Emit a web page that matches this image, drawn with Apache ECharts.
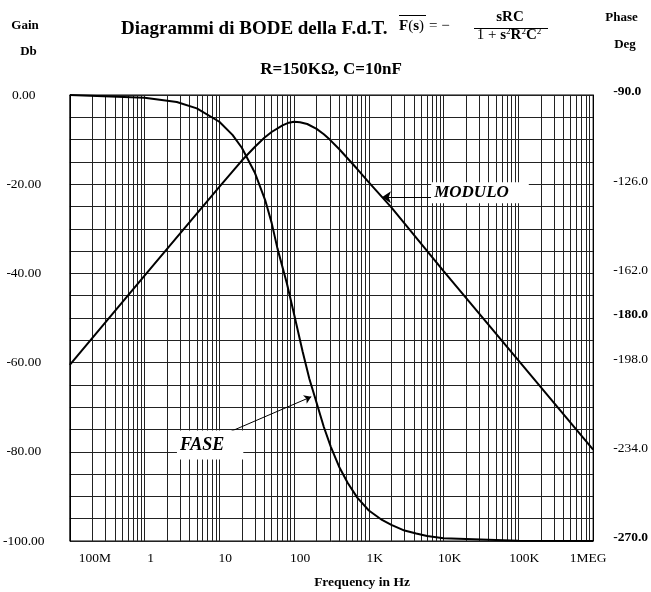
<!DOCTYPE html>
<html>
<head>
<meta charset="utf-8">
<script src="https://cdn.jsdelivr.net/npm/echarts@6/dist/echarts.min.js"></script>
<style>
html,body{margin:0;padding:0;background:#fff;}
#chart{width:651px;height:592px;}
</style>
</head>
<body>
<div id="chart"></div>
<script>
// ---- data ----
const freqGain = [0.1, 1, 10, 20, 30, 40, 50, 70, 85, 100, 120, 150, 200, 250, 300, 400, 500, 700, 1000, 2000, 10000, 100000, 1000000];
const gainDb = [-60.5, -40.5, -20.6, -14.7, -11.6, -9.6, -8.3, -6.8, -6.2, -6.0, -6.1, -6.5, -7.6, -8.8, -10.0, -12.1, -13.9, -16.6, -19.6, -25.2, -39.5, -59.5, -79.5];

const freqPhase = [0.1, 1, 2.7, 5, 10, 15, 20, 30, 41, 50, 60, 80, 100, 130, 160, 190, 250, 310, 400, 520, 700, 1000, 1500, 2000, 3000, 4300, 6000, 10000, 100000, 1000000];
const phaseDeg = [-90.0, -91.1, -92.8, -95.4, -100.8, -106.1, -111.3, -121.5, -132.4, -141.5, -152.0, -166.0, -178.5, -193.5, -204.5, -212.0, -224.0, -232.0, -240.0, -246.5, -252.5, -257.7, -261.5, -263.5, -265.8, -267.0, -268.0, -268.9, -269.9, -270.0];

const xTickLabels = {'-1': '100M', '0': '1', '1': '10', '2': '100', '3': '1K', '4': '10K', '5': '100K', '6': '1MEG'};
const phaseLabelValues = [-90, -126, -162, -180, -198, -234, -270];
const phaseBoldValues = [-90, -180, -270];

// annotation anchors (data coordinates)
const moduloLabelAt = [6823, -21.9];
const moduloArrow = [[6823, -22.9], [1496, -22.9]];
const faseLabelAt = [2.71, -231.3];
const faseArrow = [[14.4, -225.7], [169.7, -211.8]];

const FONT = '"Liberation Serif", "Times New Roman", serif';

// vertical log grid lines
const vLines = [];
for (let d = -1; d <= 5; d++) {
  for (let k = 1; k <= 9; k++) {
    const v = Number((k * Math.pow(10, d)).toPrecision(6));
    if (v > 0.1 && v < 1e6) vLines.push({xAxis: v});
  }
}

const chart = echarts.init(document.getElementById('chart'), null, {renderer: 'canvas'});

const option = {
  animation: false,
  backgroundColor: '#fff',
  grid: {left: 68, right: 52, top: 95, bottom: 51, show: true, borderColor: '#000', borderWidth: 1, backgroundColor: 'transparent'},
  xAxis: {
    type: 'log', logBase: 10, min: 0.1, max: 1e6, splitNumber: 7,
    axisLine: {show: false}, axisTick: {show: false}, splitLine: {show: false},
    axisLabel: {
      showMinLabel: true, showMaxLabel: true, margin: 10, color: '#000',
      fontFamily: FONT, fontSize: 13.5,
      formatter: function (v) {
        const e = Math.round(Math.log10(v));
        const t = xTickLabels[String(e)] || '';
        if (e === -1) return '{b|' + t + '}';
        if (e === 6) return '{c|' + t + '}';
        return '{a|' + t + '}';
      },
      rich: {
        a: {fontFamily: FONT, fontSize: 13.5, color: '#000', padding: [0, 0, 0, 12]},
        b: {fontFamily: FONT, fontSize: 13.5, color: '#000', padding: [0, 0, 0, 50]},
        c: {fontFamily: FONT, fontSize: 13.5, color: '#000', padding: [0, 10, 0, 0]}
      }
    }
  },
  yAxis: [
    {
      type: 'value', min: -100, max: 0, interval: 5,
      axisLine: {show: true, lineStyle: {color: '#000'}}, axisTick: {show: false},
      splitLine: {show: true, lineStyle: {color: '#222', width: 1}},
      axisLabel: {
        align: 'center', margin: 46, color: '#000', fontFamily: FONT, fontSize: 13.5,
        padding: [0, 0, 7, 0],
        formatter: function (v) { return (Math.round(v) % 20 === 0) ? v.toFixed(2) : ''; }
      }
    },
    {
      type: 'value', min: -270, max: -90, interval: 9, position: 'right',
      axisLine: {show: true, lineStyle: {color: '#000'}}, axisTick: {show: false},
      splitLine: {show: false},
      axisLabel: {
        align: 'left', margin: 20, color: '#000',
        formatter: function (v) {
          const r = Math.round(v);
          if (phaseLabelValues.indexOf(r) < 0) return '';
          return (phaseBoldValues.indexOf(r) >= 0 ? '{b|' : '{n|') + r.toFixed(1) + '}';
        },
        rich: {
          b: {fontFamily: FONT, fontSize: 13.5, fontWeight: 'bold', color: '#000', padding: [0, 0, 6, 0]},
          n: {fontFamily: FONT, fontSize: 13.5, color: '#000', padding: [0, 0, 6, 0]}
        }
      }
    }
  ],
  series: [
    {
      name: 'grid', type: 'line', data: [], z: 1, silent: true,
      markLine: {
        silent: true, symbol: 'none', animation: false,
        label: {show: false},
        lineStyle: {color: '#222', width: 1, type: 'solid'},
        emphasis: {disabled: true},
        data: vLines
      }
    },
    {
      name: 'MODULO', type: 'line', z: 5, yAxisIndex: 0,
      data: freqGain.map((f, i) => [f, gainDb[i]]),
      showSymbol: false, smooth: false,
      lineStyle: {color: '#000', width: 2},
      markPoint: {
        silent: true, symbol: 'rect', symbolSize: 0,
        data: [{coord: moduloLabelAt, value: 'MODULO'}],
        label: {
          show: true, position: 'right', distance: 0,
          formatter: 'MODULO', color: '#000',
          fontFamily: FONT, fontSize: 17, fontWeight: 'bold', fontStyle: 'italic',
          backgroundColor: '#fff', padding: [2, 20, 2, 3]
        }
      },
      markLine: {
        silent: true, symbol: ['none', 'arrow'], symbolSize: 9,
        label: {show: false},
        lineStyle: {color: '#000', width: 1, type: 'solid'},
        data: [[{coord: moduloArrow[0]}, {coord: moduloArrow[1]}]]
      }
    },
    {
      name: 'FASE', type: 'line', z: 5, yAxisIndex: 1,
      data: freqPhase.map((f, i) => [f, phaseDeg[i]]),
      showSymbol: false, smooth: false,
      lineStyle: {color: '#000', width: 2},
      markPoint: {
        silent: true, symbol: 'rect', symbolSize: 0,
        data: [{coord: faseLabelAt, value: 'FASE'}],
        label: {
          show: true, position: 'right', distance: 0,
          formatter: 'FASE', color: '#000',
          fontFamily: FONT, fontSize: 18, fontWeight: 'bold', fontStyle: 'italic',
          backgroundColor: '#fff', padding: [5, 19, 6, 3]
        }
      },
      markLine: {
        silent: true, symbol: ['none', 'arrow'], symbolSize: 7,
        label: {show: false},
        lineStyle: {color: '#000', width: 1, type: 'solid'},
        data: [[{coord: faseArrow[0]}, {coord: faseArrow[1]}]]
      }
    }
  ],
  graphic: [
    {type: 'text', x: 121, y: 29, style: {text: 'Diagrammi di BODE della F.d.T.', font: 'bold 19px ' + FONT, fill: '#000', align: 'left', verticalAlign: 'middle'}},
    {type: 'text', x: 399, y: 26, style: {
      text: '{b|F}{r|(}{b|s}{r|)}', fill: '#000', align: 'left', verticalAlign: 'middle',
      rich: {b: {font: 'bold 15px ' + FONT}, r: {font: '15px ' + FONT}}
    }},
    {type: 'line', shape: {x1: 399, y1: 15.5, x2: 426, y2: 15.5}, style: {stroke: '#000', lineWidth: 1}},
    {type: 'text', x: 429, y: 26, style: {text: '= \u2212', font: '15px ' + FONT, fill: '#000', align: 'left', verticalAlign: 'middle'}},
    {type: 'text', x: 510, y: 17, style: {text: 'sRC', font: 'bold 15px ' + FONT, fill: '#000', align: 'center', verticalAlign: 'middle'}},
    {type: 'line', shape: {x1: 474, y1: 28.5, x2: 548, y2: 28.5}, style: {stroke: '#000', lineWidth: 1}},
    {type: 'text', x: 509, y: 35, style: {
      text: '{r|1 + }{b|s}{sup|2}{b|R}{sup|2}{b|C}{sup|2}', fill: '#000', align: 'center', verticalAlign: 'middle',
      rich: {r: {font: '15px ' + FONT}, b: {font: 'bold 15px ' + FONT}, sup: {font: '9px ' + FONT, verticalAlign: 'top'}}
    }},
    {type: 'text', x: 331, y: 70, style: {text: 'R=150K\u03A9, C=10nF', font: 'bold 17px ' + FONT, fill: '#000', align: 'center', verticalAlign: 'middle'}},
    {type: 'text', x: 25, y: 26, style: {text: 'Gain', font: 'bold 13px ' + FONT, fill: '#000', align: 'center', verticalAlign: 'middle'}},
    {type: 'text', x: 28.5, y: 52, style: {text: 'Db', font: 'bold 13px ' + FONT, fill: '#000', align: 'center', verticalAlign: 'middle'}},
    {type: 'text', x: 621.5, y: 17.5, style: {text: 'Phase', font: 'bold 13px ' + FONT, fill: '#000', align: 'center', verticalAlign: 'middle'}},
    {type: 'text', x: 625, y: 45, style: {text: 'Deg', font: 'bold 13px ' + FONT, fill: '#000', align: 'center', verticalAlign: 'middle'}},
    {type: 'text', x: 362, y: 583, style: {text: 'Frequency in Hz', font: 'bold 13.5px ' + FONT, fill: '#000', align: 'center', verticalAlign: 'middle'}}
  ]
};
chart.setOption(option);
</script>
</body>
</html>
